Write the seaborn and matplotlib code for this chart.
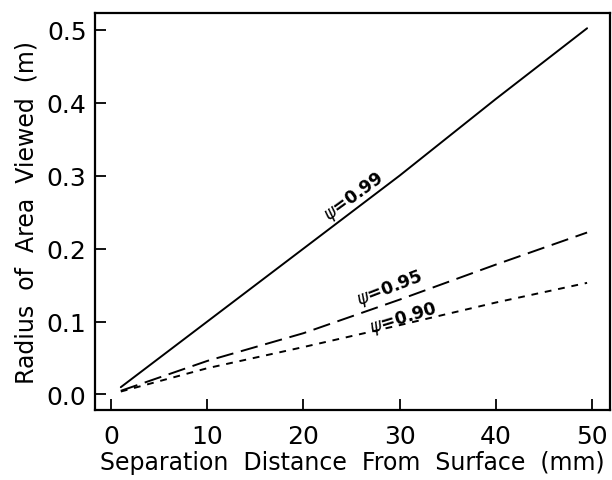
import matplotlib
matplotlib.use("Agg")
import matplotlib.pyplot as plt
import seaborn as sns
import pandas as pd

# Data
x_vals = [1, 10, 20, 30, 40, 49.5]
psi_099 = [0.010, 0.100, 0.200, 0.300, 0.405, 0.502]
psi_095 = [0.005, 0.046, 0.084, 0.130, 0.178, 0.222]
psi_090 = [0.004, 0.036, 0.065, 0.095, 0.126, 0.153]
series_names = ["0.99", "0.95", "0.90"]
x_ticks = [0, 10, 20, 30, 40, 50]
y_ticks = [0.0, 0.1, 0.2, 0.3, 0.4, 0.5]

sns.set_theme(style="ticks")
plt.rcParams['font.family'] = ['DejaVu Sans']
plt.rcParams['mathtext.fontset'] = 'dejavusans'
plt.rcParams['text.color'] = 'black'
plt.rcParams['axes.labelcolor'] = 'black'
plt.rcParams['xtick.color'] = 'black'
plt.rcParams['ytick.color'] = 'black'

df = pd.DataFrame({
    "x": x_vals * 3,
    "y": psi_099 + psi_095 + psi_090,
    "psi": [series_names[0]] * len(x_vals) + [series_names[1]] * len(x_vals) + [series_names[2]] * len(x_vals),
})

fig = plt.figure(figsize=(6.12, 4.81), dpi=100)
ax = fig.add_axes([0.155, 0.146, 0.842, 0.825])

styles = {"0.99": "-", "0.95": (0, (9, 4)), "0.90": (0, (3.5, 3.5))}
for name in series_names:
    sub = df[df["psi"] == name]
    sns.lineplot(data=sub, x="x", y="y", ax=ax, color="black", linewidth=1.4,
                 linestyle=styles[name], legend=False)

ax.set_xlim(-1.7, 51.9)
ax.set_ylim(-0.021, 0.523)
ax.set_xticks(x_ticks)
ax.set_yticks(y_ticks)
ax.set_xticklabels([str(t) for t in x_ticks])
ax.set_yticklabels([f"{t:.1f}" for t in y_ticks])
ax.tick_params(axis="both", direction="in", length=8, width=1.3, labelsize=18)
ax.tick_params(axis="x", pad=10)
ax.tick_params(axis="y", pad=6)
for sp in ax.spines.values():
    sp.set_visible(True)
    sp.set_linewidth(1.6)
    sp.set_color("black")

ax.set_xlabel("Separation  Distance  From  Surface  (mm)", fontsize=17, labelpad=2)
ax.set_ylabel("Radius  of  Area  Viewed  (m)", fontsize=17, labelpad=6)

ax.text(25.3, 0.272, r"$\psi$=0.99", rotation=36, ha="center", va="center", fontsize=12.5, fontweight="bold")
ax.text(29.0, 0.147, r"$\psi$=0.95", rotation=21, ha="center", va="center", fontsize=12.5, fontweight="bold")
ax.text(30.4, 0.105, r"$\psi$=0.90", rotation=17, ha="center", va="center", fontsize=12.5, fontweight="bold")

fig.savefig("out.png", dpi=100)
